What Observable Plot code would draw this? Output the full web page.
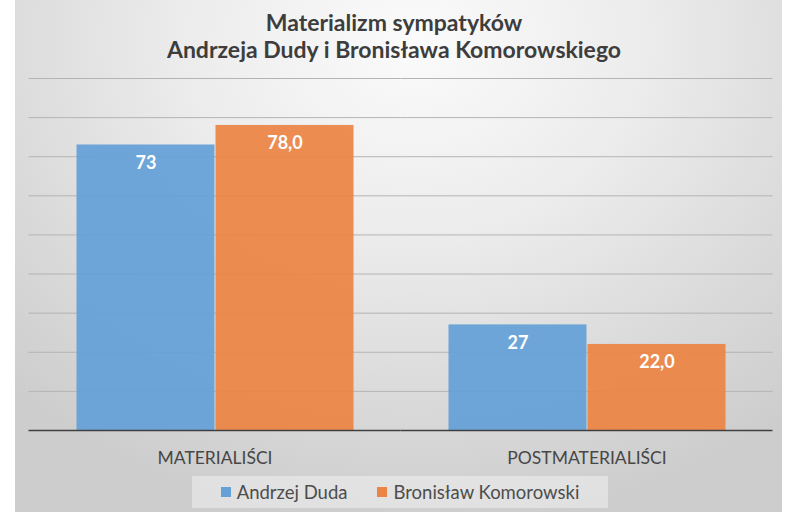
<!DOCTYPE html>
<html>
<head>
<meta charset="utf-8">
<script src="https://cdn.jsdelivr.net/npm/d3@7"></script>
<script src="https://cdn.jsdelivr.net/npm/@observablehq/plot@0.6"></script>
<style>
  html, body { margin: 0; padding: 0; background: #ffffff; }
  #page { position: relative; width: 788px; height: 523px; overflow: hidden; font-family: Lato, "Open Sans", sans-serif; }
  #panel { position: absolute; left: 15px; top: 0; width: 767px; height: 512px;
    background: radial-gradient(ellipse 75% 95% at 52% 8%, #fbfbfb 0%, #ececec 40%, #dcdcdc 70%, #cdcdcd 100%); }
  #content { position: relative; }
  #title { height: 66px; box-sizing: border-box; padding-top: 9px; text-align: center;
    font-size: 23px; line-height: 27px; font-weight: bold; color: #3d3d3d; }
  #chart svg { display: block; }
  #legend { position: absolute; left: 192px; top: 476px; width: 416px; height: 32px;
    background: rgba(240,240,240,0.55); display: flex; align-items: center; justify-content: center;
    font-size: 18.5px; color: #4d4d4d; }
  .item { display: flex; align-items: center; }
  .sw { width: 10px; height: 10px; margin-right: 6px; }
  .item + .item { margin-left: 30px; }
</style>
</head>
<body>
<div id="page">
  <div id="panel"></div>
  <div id="content">
    <div id="title"></div>
    <div id="chart"></div>
  </div>
  <div id="legend"></div>
</div>
<script>
const titleLines = ["Materializm sympatyków", "Andrzeja Dudy i Bronisława Komorowskiego"];
const categories = ["MATERIALIŚCI", "POSTMATERIALIŚCI"];
const seriesNames = ["Andrzej Duda", "Bronisław Komorowski"];
const dudaValues = [73, 27];
const komorowskiValues = [78, 22];
const dudaLabels = ["73", "27"];
const komorowskiLabels = ["78,0", "22,0"];
const gridTicks = [10, 20, 30, 40, 50, 60, 70, 80, 90];
const colors = ["#65a0d7", "#ec8444"];

document.getElementById("title").innerHTML = titleLines.join("<br>");

const data = [];
categories.forEach((c, i) => {
  data.push({category: c, series: seriesNames[0], value: dudaValues[i], label: dudaLabels[i]});
  data.push({category: c, series: seriesNames[1], value: komorowskiValues[i], label: komorowskiLabels[i]});
});

const chart = Plot.plot({
  width: 788,
  height: 410,
  marginLeft: 28,
  marginRight: 16,
  marginTop: 12,
  marginBottom: 46,
  style: {fontFamily: "Lato, 'Open Sans', sans-serif", fontSize: "17.5px", color: "#474747", background: "transparent", overflow: "visible"},
  fx: {domain: categories, paddingInner: 0.25, paddingOuter: 0.125, tickSize: 0, tickPadding: 21, label: null, axis: "bottom"},
  x: {domain: seriesNames, padding: 0, axis: null},
  y: {domain: [0, 90], axis: null},
  color: {domain: seriesNames, range: colors},
  marks: [
    Plot.ruleY(gridTicks, {stroke: "#b4b4b4", strokeWidth: 1, insetLeft: -46.5, insetRight: -46.5}),
    Plot.barY(data, {fx: "category", x: "series", y: "value", fill: "series", fillOpacity: 0.93, insetRight: 0.5, insetLeft: 0.5}),
    Plot.ruleY([0], {stroke: "#404040", strokeWidth: 1.5, insetLeft: -46.5, insetRight: -46.5}),
    Plot.text(data, {fx: "category", x: "series", y: "value", text: "label", dy: 18, fill: "white", fontWeight: "bold", fontSize: 18})
  ]
});
document.getElementById("chart").appendChild(chart);

const legend = document.getElementById("legend");
seriesNames.forEach((s, i) => {
  const item = document.createElement("div");
  item.className = "item";
  item.innerHTML = `<div class="sw" style="background:${colors[i]}"></div><span>${s}</span>`;
  legend.appendChild(item);
});
</script>
</body>
</html>
